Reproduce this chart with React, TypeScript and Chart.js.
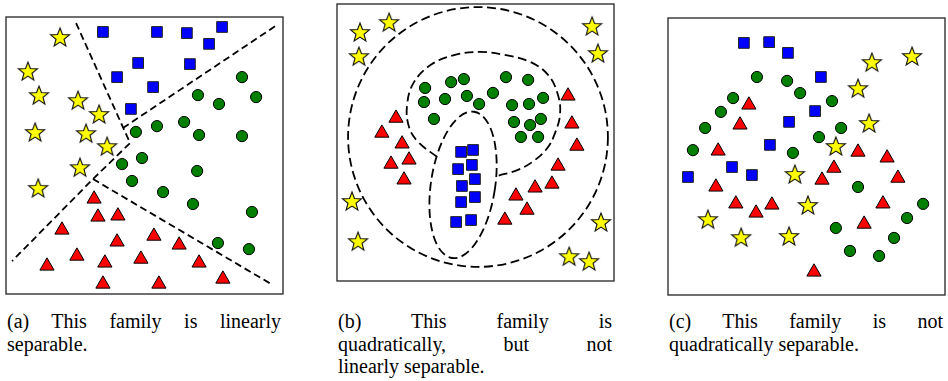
import React, { useEffect, useRef } from "react";
import { Chart, registerables } from "chart.js";
Chart.register(...registerables);

type Pt = [number, number];

// ---------- Panel (a): linearly separable ----------
const aStars: Pt[] = [[1.95,9.28],[0.79,8.05],[1.19,7.18],[2.60,7.00],[3.36,6.50],[1.05,5.85],[2.89,5.81],[3.65,5.34],[2.67,4.58],[1.16,3.83]];
const aSquares: Pt[] = [[3.50,9.46],[5.45,9.46],[6.53,9.42],[7.80,9.64],[7.33,9.03],[4.77,8.34],[6.64,8.30],[4.01,7.83],[5.31,7.47],[4.51,6.68]];
const aCircles: Pt[] = [[8.52,7.83],[6.93,7.18],[7.69,6.86],[9.03,7.11],[4.69,5.85],[5.45,6.06],[6.43,6.21],[6.97,5.74],[8.52,5.70],[4.91,4.91],[4.19,4.69],[4.55,4.08],[6.90,4.44],[5.67,3.68],[6.75,3.25],[8.88,2.96],[7.65,1.84],[8.77,1.62]];
const aTriangles: Pt[] = [[3.18,3.43],[3.32,2.78],[4.04,2.82],[2.02,2.31],[4.01,1.88],[5.34,2.09],[6.25,1.77],[2.56,1.37],[1.48,1.01],[3.57,1.12],[4.87,1.26],[6.97,1.12],[3.50,0.36],[5.52,0.36],[7.83,0.54]];
const aBoundary1: Pt[] = [[2.53,9.78],[4.48,5.45],[3.14,4.15],[0.22,1.19]];
const aBoundary2: Pt[] = [[4.22,5.99],[9.78,9.71]];
const aBoundary3: Pt[] = [[3.14,4.15],[9.64,0.32]];

// ---------- Panel (b): quadratically separable ----------
const bStars: Pt[] = [[0.83,8.99],[1.88,9.35],[0.79,8.12],[9.21,9.21],[9.42,8.23],[0.54,2.89],[0.76,1.44],[9.53,2.13],[8.38,0.90],[9.10,0.72]];
const bSquares: Pt[] = [[4.48,4.66],[4.91,4.73],[4.37,4.04],[4.87,4.19],[4.51,3.43],[4.98,3.68],[4.48,2.85],[4.98,3.03],[4.30,2.13],[4.84,2.20]];
const bCircles: Pt[] = [[3.18,6.97],[4.12,7.18],[4.58,7.29],[3.14,6.46],[3.90,6.57],[4.69,6.68],[3.50,5.85],[6.10,7.36],[6.90,7.26],[5.63,6.79],[5.13,6.39],[6.32,6.35],[6.93,6.39],[7.44,6.61],[6.39,5.74],[6.97,5.63],[7.36,5.85],[6.64,5.20],[7.26,5.20]];
const bTriangles: Pt[] = [[2.13,5.88],[1.62,5.34],[2.35,4.95],[1.95,4.22],[2.60,4.37],[2.42,3.65],[8.34,6.68],[8.48,5.67],[8.66,4.87],[7.98,4.15],[7.15,3.36],[7.76,3.50],[6.46,3.07],[6.86,2.56],[6.06,2.20]];
const bBlobCurve: Pt[] = [[3.61,4.48],[2.93,5.02],[2.60,5.56],[2.53,6.35],[2.78,7.18],[3.43,7.83],[4.26,8.16],[5.16,8.27],[6.06,8.16],[6.97,7.91],[7.62,7.44],[7.98,6.71],[8.05,5.99],[7.87,5.34],[7.62,4.84],[7.15,4.37],[6.53,4.01],[5.78,3.79]];
// ellipses: [centerX, centerY, radiusX, radiusY, tiltDeg]
const bOuterEllipse = [5.09, 5.20, 4.69, 4.69, 0];
const bInnerEllipse = [4.55, 3.47, 1.16, 2.67, 8.6];

// ---------- Panel (c): not quadratically separable ----------
const cStars: Pt[] = [[8.81,8.63],[7.36,8.41],[6.86,7.47],[7.26,6.21],[6.06,5.38],[4.58,4.37],[1.44,2.74],[2.64,2.09],[4.37,2.13],[5.05,3.25]];
const cSquares: Pt[] = [[2.74,9.10],[3.65,9.13],[4.33,8.74],[5.52,7.87],[4.37,6.25],[5.31,6.64],[3.68,5.42],[2.31,4.62],[3.03,4.33],[0.72,4.26]];
const cCircles: Pt[] = [[3.21,7.87],[4.30,7.73],[4.77,7.29],[2.35,7.11],[1.91,6.61],[1.34,6.03],[0.90,5.23],[4.51,5.13],[5.92,7.00],[6.25,6.03],[5.45,5.70],[6.86,3.90],[9.21,3.29],[8.63,2.78],[6.06,2.42],[8.16,2.06],[6.57,1.59],[7.62,1.41]];
const cTriangles: Pt[] = [[2.92,6.86],[2.60,6.14],[1.81,5.20],[6.86,5.16],[7.91,4.95],[1.73,3.90],[2.45,3.29],[3.18,2.96],[3.75,3.25],[5.99,4.58],[5.56,4.15],[8.30,4.22],[7.76,3.29],[7.08,2.56],[5.27,0.83]];

const captionA = ["(a) This family is linearly", "separable."];
const captionB = ["(b) This family is", "quadratically, but not", "linearly separable."];
const captionC = ["(c) This family is not", "quadratically separable."];

const PAD = 4;
const SIZE = 277;

function makeStar(R: number, ratio: number): HTMLCanvasElement {
  const size = 24;
  const c = document.createElement("canvas");
  c.width = size;
  c.height = size;
  const ctx = c.getContext("2d")!;
  const cx = size / 2;
  const cy = size / 2 + R * 0.095;
  ctx.beginPath();
  for (let i = 0; i < 10; i++) {
    const r = i % 2 === 0 ? R : R * ratio;
    const a = -Math.PI / 2 + (i * Math.PI) / 5;
    const x = cx + r * Math.cos(a);
    const y = cy + r * Math.sin(a);
    if (i === 0) ctx.moveTo(x, y);
    else ctx.lineTo(x, y);
  }
  ctx.closePath();
  ctx.fillStyle = "#ffff00";
  ctx.fill();
  ctx.lineWidth = 1.1;
  ctx.strokeStyle = "#111";
  ctx.stroke();
  return c;
}

const toXY = (arr: Pt[]) => arr.map(([x, y]) => ({ x, y }));

interface PanelProps {
  left: number;
  top: number;
  stars: Pt[];
  squares: Pt[];
  circles: Pt[];
  triangles: Pt[];
  lines: { pts: Pt[]; tension: number; dash: number[] }[];
  ellipses: number[][];
}

function Panel(p: PanelProps) {
  const ref = useRef<HTMLCanvasElement>(null);
  useEffect(() => {
    if (!ref.current) return;
    const star = makeStar(10, 0.42);
    const lineSets = p.lines.map((l) => ({
      data: toXY(l.pts),
      showLine: true,
      borderColor: "#000",
      borderWidth: 1.8,
      borderDash: l.dash,
      tension: l.tension,
      pointRadius: 0,
      fill: false,
    }));
    const framePlugin = {
      id: "frame",
      beforeDatasetsDraw(chart: any) {
        const { ctx, scales } = chart;
        const xs = scales.x, ys = scales.y;
        ctx.save();
        ctx.strokeStyle = "#000";
        ctx.lineWidth = 1.8;
        ctx.setLineDash([9, 4.5]);
        for (const e of p.ellipses) {
          const [cx, cy, rx, ry, tilt] = e;
          const px = xs.getPixelForValue(cx);
          const py = ys.getPixelForValue(cy);
          const prx = Math.abs(xs.getPixelForValue(cx + rx) - px);
          const pry = Math.abs(ys.getPixelForValue(cy + ry) - py);
          ctx.beginPath();
          ctx.ellipse(px, py, prx, pry, (tilt * Math.PI) / 180, 0, Math.PI * 2);
          ctx.stroke();
        }
        ctx.restore();
      },
      afterDraw(chart: any) {
        const { ctx, chartArea } = chart;
        ctx.save();
        ctx.strokeStyle = "#333";
        ctx.lineWidth = 1.4;
        ctx.strokeRect(chartArea.left, chartArea.top, chartArea.right - chartArea.left, chartArea.bottom - chartArea.top);
        ctx.restore();
      },
    };
    const chart = new Chart(ref.current, {
      type: "scatter",
      data: {
        datasets: [
          { data: toXY(p.stars), pointStyle: star as any, pointRadius: 10 },
          { data: toXY(p.squares), pointStyle: "rect", pointRadius: 7.6, backgroundColor: "#0000ff", borderColor: "#222", borderWidth: 1 },
          { data: toXY(p.circles), pointStyle: "circle", pointRadius: 5.6, backgroundColor: "#007f00", borderColor: "#000", borderWidth: 1 },
          { data: toXY(p.triangles), pointStyle: "triangle", pointRadius: 8.2, backgroundColor: "#ff0000", borderColor: "#000", borderWidth: 1 },
          ...lineSets,
        ] as any,
      },
      options: {
        responsive: false,
        animation: false,
        layout: { padding: PAD, autoPadding: false },
        scales: {
          x: { type: "linear", min: 0, max: 10, display: false },
          y: { type: "linear", min: 0, max: 10, display: false },
        },
        plugins: { legend: { display: false }, tooltip: { enabled: false } },
        elements: { point: { hoverRadius: 0 } },
        events: [],
      } as any,
      plugins: [framePlugin],
    });
    return () => chart.destroy();
  }, []);
  return (
    <div style={{ position: "absolute", left: p.left - PAD, top: p.top - PAD }}>
      <canvas ref={ref} width={SIZE + 2 * PAD} height={SIZE + 2 * PAD} style={{ display: "block" }} />
    </div>
  );
}

function Caption({ left, lines }: { left: number; lines: string[] }) {
  return (
    <div
      style={{
        position: "absolute",
        left: left + 1,
        top: 310,
        width: 274,
        fontFamily: "'Liberation Serif', 'DejaVu Serif', serif",
        fontSize: 20,
        lineHeight: "22.5px",
        color: "#000",
      }}
    >
      {lines.map((t, i) => {
        const last = i === lines.length - 1;
        return (
          <div key={i} style={{ textAlign: last ? "left" : "justify", textAlignLast: last ? "left" : "justify" } as any}>
            {t}
          </div>
        );
      })}
    </div>
  );
}

export default function App() {
  return (
    <div style={{ position: "absolute", left: 0, top: 0, width: 948, height: 381, background: "#fff", overflow: "hidden" }}>
      <Panel
        left={6}
        top={17}
        stars={aStars}
        squares={aSquares}
        circles={aCircles}
        triangles={aTriangles}
        lines={[
          { pts: aBoundary1, tension: 0, dash: [7, 4] },
          { pts: aBoundary2, tension: 0, dash: [7, 4] },
          { pts: aBoundary3, tension: 0, dash: [7, 4] },
        ]}
        ellipses={[]}
      />
      <Panel
        left={337}
        top={4}
        stars={bStars}
        squares={bSquares}
        circles={bCircles}
        triangles={bTriangles}
        lines={[{ pts: bBlobCurve, tension: 0.4, dash: [9, 4.5] }]}
        ellipses={[bOuterEllipse, bInnerEllipse]}
      />
      <Panel
        left={668}
        top={18}
        stars={cStars}
        squares={cSquares}
        circles={cCircles}
        triangles={cTriangles}
        lines={[]}
        ellipses={[]}
      />
      <Caption left={6} lines={captionA} />
      <Caption left={337} lines={captionB} />
      <Caption left={668} lines={captionC} />
    </div>
  );
}
